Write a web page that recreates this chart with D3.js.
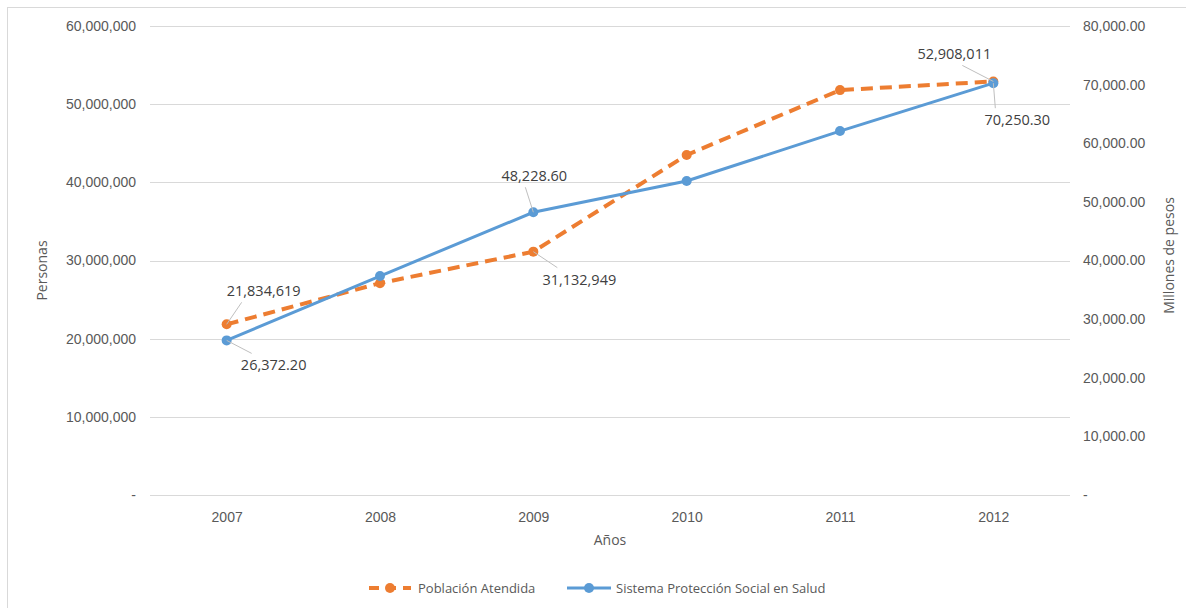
<!DOCTYPE html>
<html>
<head>
<meta charset="utf-8">
<script src="https://cdn.jsdelivr.net/npm/d3@7"></script>
<style>
	body { margin: 0; background: #fff; }
	svg { display: block; font-family: "Open Sans", sans-serif; }
	.tick text { fill: #595959; font-size: 14px; }
</style>
</head>
<body>
<svg width="1186" height="608"></svg>
<script>
var years = ["2007", "2008", "2009", "2010", "2011", "2012"];
var poblacion = [21834619, 27100000, 31132949, 43500000, 51800000, 52908011];
var sistema = [26372.20, 37350, 48228.60, 53560, 62080, 70250.30];
var leftTicks = [0, 10000000, 20000000, 30000000, 40000000, 50000000, 60000000];
var rightTicks = [0, 10000, 20000, 30000, 40000, 50000, 60000, 70000, 80000];

// which points get a data label, and where it sits relative to the marker
var poblacionLabels = [{i: 0, dx: 37, dy: -33}, {i: 2, dx: 46, dy: 28}, {i: 5, dx: -39, dy: -27}];
var sistemaLabels = [{i: 0, dx: 47, dy: 25}, {i: 2, dx: 1, dy: -36}, {i: 5, dx: 24, dy: 37}];

var svg = d3.select("svg");
var margin = {top: 26, right: 116, bottom: 113, left: 150};
var width = 1186 - margin.left - margin.right,
	height = 608 - margin.top - margin.bottom;

// chart frame
svg.append("rect")
	.attr("x", 7.5).attr("y", 7.5)
	.attr("width", 1200).attr("height", 700)
	.attr("fill", "none").attr("stroke", "#d9d9d9");

var chart = svg.append("g")
	.attr("transform", "translate(" + margin.left + "," + margin.top + ")");

var x = d3.scalePoint().domain(years).range([0, width]).padding(0.5);
var yLeft = d3.scaleLinear().domain([0, 60000000]).range([height, 0]);
var yRight = d3.scaleLinear().domain([0, 80000]).range([height, 0]);

var fmtInt = d3.format(",");
var fmtDec = d3.format(",.2f");

// gridlines
chart.append("g").selectAll("line").data(leftTicks).enter().append("line")
	.attr("x1", 0).attr("x2", width)
	.attr("y1", function(d){return Math.round(yLeft(d)) + 0.5;})
	.attr("y2", function(d){return Math.round(yLeft(d)) + 0.5;})
	.attr("stroke", "#d9d9d9");

var axL = chart.append("g")
	.call(d3.axisLeft(yLeft).tickValues(leftTicks).tickSize(0).tickPadding(14)
		.tickFormat(function(d){return d === 0 ? "-" : fmtInt(d);}));
axL.select(".domain").remove();

var axR = chart.append("g")
	.attr("transform", "translate(" + width + ",0)")
	.call(d3.axisRight(yRight).tickValues(rightTicks).tickSize(0).tickPadding(13)
		.tickFormat(function(d){return d === 0 ? "-" : fmtDec(d);}));
axR.select(".domain").remove();

var axX = chart.append("g")
	.attr("transform", "translate(0," + height + ")")
	.call(d3.axisBottom(x).tickSize(0).tickPadding(17));
axX.select(".domain").remove();

// axis titles
chart.append("text")
	.attr("transform", "translate(-103," + (height / 2 + 10) + ") rotate(-90)")
	.attr("text-anchor", "middle").attr("fill", "#595959").style("font-size", "14px")
	.text("Personas");
chart.append("text")
	.attr("transform", "translate(" + (width + 104) + "," + (height / 2 - 5) + ") rotate(-90)")
	.attr("text-anchor", "middle").attr("fill", "#595959").style("font-size", "14px")
	.text("Millones de pesos");
chart.append("text")
	.attr("x", width / 2).attr("y", height + 50)
	.attr("text-anchor", "middle").attr("fill", "#595959").style("font-size", "14px")
	.text("Años");

var lineLeft = d3.line()
	.x(function(d, i){return x(years[i]);})
	.y(function(d){return yLeft(d);});
var lineRight = d3.line()
	.x(function(d, i){return x(years[i]);})
	.y(function(d){return yRight(d);});

var orange = "#ed7d31", blue = "#5b9bd5";

chart.append("path").datum(poblacion)
	.attr("d", lineLeft).attr("fill", "none")
	.attr("stroke", orange).attr("stroke-width", 4)
	.attr("stroke-dasharray", "12,7");
chart.selectAll(".dotP").data(poblacion).enter().append("circle")
	.attr("class", "dotP")
	.attr("cx", function(d, i){return x(years[i]);})
	.attr("cy", function(d){return yLeft(d);})
	.attr("r", 5).attr("fill", orange);

chart.append("path").datum(sistema)
	.attr("d", lineRight).attr("fill", "none")
	.attr("stroke", blue).attr("stroke-width", 3);
chart.selectAll(".dotS").data(sistema).enter().append("circle")
	.attr("class", "dotS")
	.attr("cx", function(d, i){return x(years[i]);})
	.attr("cy", function(d){return yRight(d);})
	.attr("r", 5).attr("fill", blue);

// data labels with leader lines
function addLabels(labels, values, scale, fmt){
	labels.forEach(function(l){
		var px = x(years[l.i]), py = scale(values[l.i]);
		var lx = px + l.dx, ly = py + l.dy;
		var ey = l.dy < 0 ? ly + 11 : ly - 12;
		var ex = l.dx > 20 ? lx - 22 : (l.dx < -20 ? lx + 8 : lx - 9);
		chart.append("line")
			.attr("x1", px).attr("y1", py).attr("x2", ex).attr("y2", ey)
			.attr("stroke", "#bfbfbf").attr("stroke-width", 1);
		chart.append("text")
			.attr("x", lx).attr("y", ly + 5)
			.attr("text-anchor", "middle").attr("fill", "#404040")
			.style("font-size", "14.5px")
			.text(fmt(values[l.i]));
	});
}
addLabels(poblacionLabels, poblacion, yLeft, fmtInt);
addLabels(sistemaLabels, sistema, yRight, fmtDec);

// legend
var legend = svg.append("g").attr("transform", "translate(0,588)");
legend.append("line").attr("x1", 369).attr("x2", 411).attr("y1", 0).attr("y2", 0)
	.attr("stroke", orange).attr("stroke-width", 4).attr("stroke-dasharray", "10,7");
legend.append("circle").attr("cx", 390).attr("cy", 0).attr("r", 5).attr("fill", orange);
legend.append("text").attr("x", 418).attr("y", 5).attr("fill", "#595959")
	.style("font-size", "13px").text("Población Atendida");
legend.append("line").attr("x1", 567).attr("x2", 611).attr("y1", 0).attr("y2", 0)
	.attr("stroke", blue).attr("stroke-width", 3);
legend.append("circle").attr("cx", 589).attr("cy", 0).attr("r", 5).attr("fill", blue);
legend.append("text").attr("x", 616).attr("y", 5).attr("fill", "#595959")
	.style("font-size", "13px").text("Sistema Protección Social en Salud");
</script>
</body>
</html>
